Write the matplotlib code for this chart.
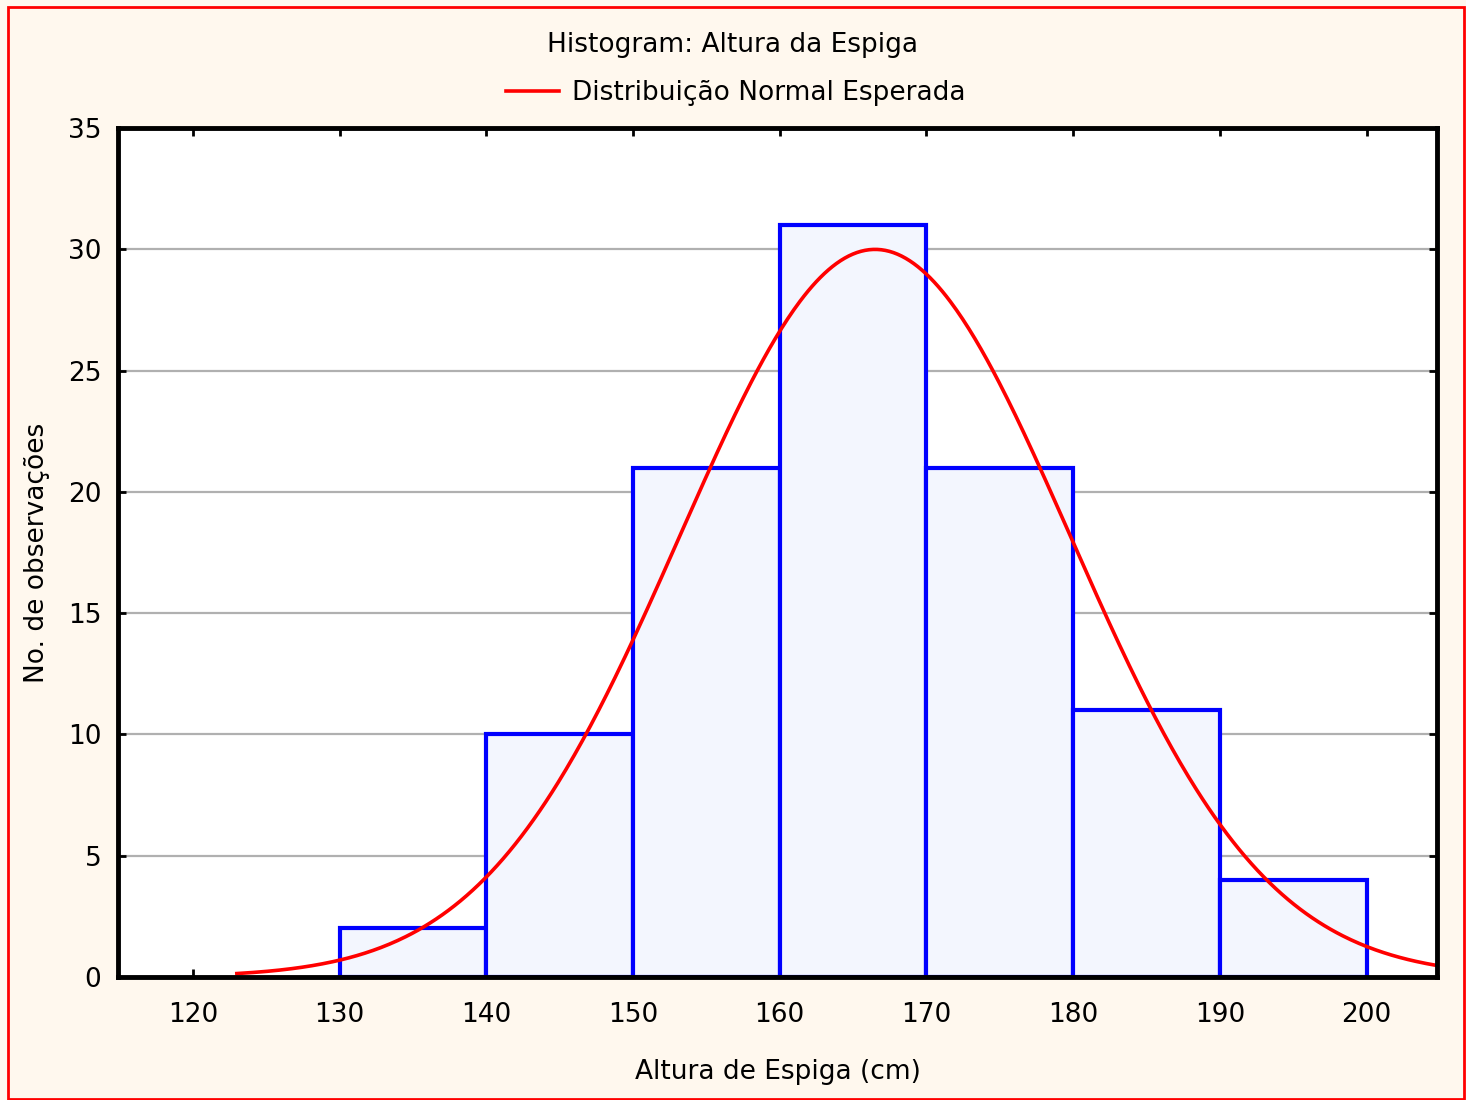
import numpy as np
import matplotlib
matplotlib.use("Agg")
import matplotlib.pyplot as plt
from matplotlib.patches import Rectangle

# Data
bin_edges = [130, 140, 150, 160, 170, 180, 190, 200]
counts = [2, 10, 21, 31, 21, 11, 4]
fit_mean = 166.5
fit_sd = 13.3
curve_start = 123.0
xticks = [120, 130, 140, 150, 160, 170, 180, 190, 200]
yticks = [0, 5, 10, 15, 20, 25, 30, 35]

title = "Histogram: Altura da Espiga"
legend_label = "Distribuição Normal Esperada"
xlabel = "Altura de Espiga (cm)"
ylabel = "No. de observações"

plt.rcParams['font.family'] = ['DejaVu Sans']
FS = 19

fig = plt.figure(figsize=(14.66, 11), dpi=100)
fig.patch.set_facecolor('#FFF8EE')
fig.patches.append(Rectangle((8/1466, 1/1100), 1456/1466, 1092/1100, transform=fig.transFigure,
                             fill=False, edgecolor='#FF0000', linewidth=2, zorder=0))

ax = fig.add_axes([118/1466, 1 - 977/1100, (1437 - 118)/1466, (977 - 128)/1100])
ax.set_facecolor('white')

widths = np.diff(bin_edges)
ax.bar(bin_edges[:-1], counts, width=widths, align='edge', facecolor='#F3F6FE',
       edgecolor='#0000FF', linewidth=3, zorder=3)

n_total = sum(counts)
binw = widths[0]
xs = np.linspace(curve_start, 206, 600)
ys = n_total * binw / (fit_sd * np.sqrt(2 * np.pi)) * np.exp(-0.5 * ((xs - fit_mean) / fit_sd) ** 2)
line, = ax.plot(xs, ys, color='#FF0000', linewidth=2.6, zorder=4, clip_on=True)

ax.set_xlim(114.9, 204.8)
ax.set_ylim(0, 35)
ax.set_xticks(xticks)
ax.set_yticks(yticks)
ax.yaxis.grid(True, color='#B0B0B0', linewidth=1.6, zorder=1)
ax.set_axisbelow(True)
ax.tick_params(direction='in', length=6, width=2, top=True, right=True,
               labelsize=FS)
ax.tick_params(axis='x', pad=18)
ax.tick_params(axis='y', pad=12)
for s in ax.spines.values():
    s.set_linewidth(3.5)
    s.set_zorder(6)

ax.set_xlabel(xlabel, fontsize=FS, labelpad=22)
ax.set_ylabel(ylabel, fontsize=FS, labelpad=13)

fig.text(0.4995, 1 - 45/1100, title, ha='center', va='center', fontsize=FS)
fig.legend([line], [legend_label], loc='center', bbox_to_anchor=(0.502, 1 - 93/1100),
           frameon=False, fontsize=FS, handlelength=2.0, handletextpad=0.5)

fig.savefig('out.png', dpi=100, facecolor=fig.get_facecolor())
